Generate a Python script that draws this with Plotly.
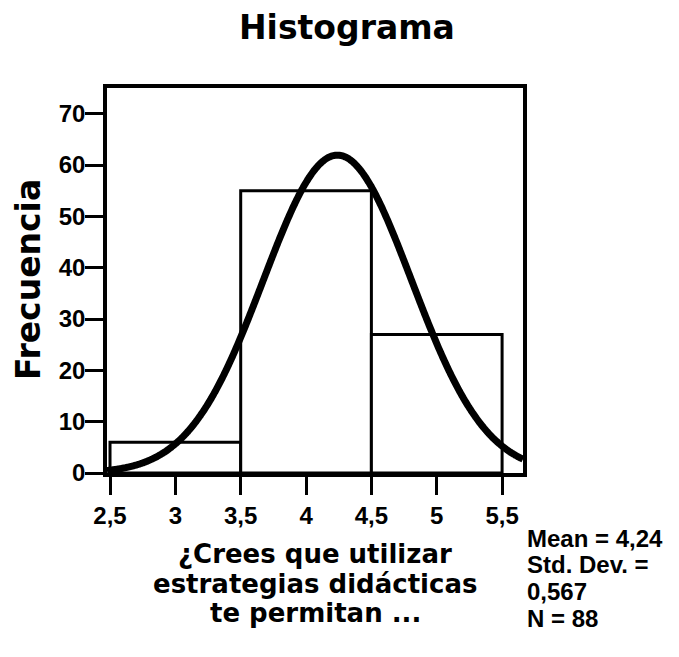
import numpy as np
import plotly.graph_objects as go

# histogram bins (centers, width 1) and counts
bin_centers = [3, 4, 5]
counts = [6, 55, 27]

# summary statistics printed on the chart
mean = 4.24
std_dev = 0.567
n = 88

x_ticks = [2.5, 3, 3.5, 4, 4.5, 5, 5.5]
x_tick_text = ["2,5", "3", "3,5", "4", "4,5", "5", "5,5"]
y_ticks = [0, 10, 20, 30, 40, 50, 60, 70]

x_title_lines = ["¿Crees que utilizar", "estrategias didácticas", "te permitan ..."]
stats_lines = ["Mean = 4,24", "Std. Dev. =", "0,567", "N = 88"]

HEAVY = "DejaVu Sans, Arial Black, sans-serif"
ARIAL = "Liberation Sans, Arial, sans-serif"

# plot area in page pixels (page has an 8px body offset)
PL, PR, PT, PB = 107, 523, 88, 473
W, H, OFF = 679, 657, 8


def px(x):
    return (x - PL) / (PR - PL)


def py(y):
    return (PB - y) / (PB - PT)


# fitted normal curve, scaled to counts per unit-width bin
xs = np.linspace(2.477, 5.66, 400)
ys = n / (std_dev * np.sqrt(2 * np.pi)) * np.exp(-0.5 * ((xs - mean) / std_dev) ** 2)

fig = go.Figure()
fig.add_trace(go.Bar(
    x=bin_centers, y=counts, width=1,
    marker=dict(color="white", line=dict(color="black", width=3)),
))
fig.add_trace(go.Scatter(
    x=xs, y=ys, mode="lines",
    line=dict(color="black", width=7, shape="spline", simplify=False),
))

axis_common = dict(
    showline=True, linecolor="black", linewidth=3.5, mirror=True,
    ticks="outside", ticklen=18, tickwidth=3, tickcolor="black",
    showgrid=False, zeroline=False,
    tickfont=dict(family=ARIAL, size=24, color="black", weight="bold"),
)

fig.update_layout(
    width=W, height=H,
    margin=dict(l=PL - OFF, r=W + OFF - PR, t=PT - OFF, b=H + OFF - PB),
    plot_bgcolor="white", paper_bgcolor="white",
    showlegend=False,
    separators=",.",
    xaxis=dict(range=[2.477, 5.66], tickvals=x_ticks, ticktext=x_tick_text, **axis_common),
    yaxis=dict(range=[0, 75], tickvals=y_ticks, ticklabelstandoff=-5, **axis_common),
)

fig.add_annotation(
    text="<b>Histograma</b>", xref="paper", yref="paper",
    x=px(347), y=py(28), xanchor="center", yanchor="middle", showarrow=False,
    font=dict(family=HEAVY, size=33, color="black"),
)
fig.add_annotation(
    text="<b>Frecuencia</b>", textangle=-90, xref="paper", yref="paper",
    x=px(28), y=py(280), xanchor="center", yanchor="middle", showarrow=False,
    font=dict(family=HEAVY, size=33, color="black"),
)
for i, line in enumerate(x_title_lines):
    fig.add_annotation(
        text="<b>" + line + "</b>", xref="paper", yref="paper",
        x=px(315), y=py(554 + 29.5 * i), xanchor="center", yanchor="middle",
        showarrow=False, font=dict(family=HEAVY, size=26, color="black"),
    )
for i, line in enumerate(stats_lines):
    fig.add_annotation(
        text="<b>" + line + "</b>", xref="paper", yref="paper",
        x=px(525), y=py(538 + 26.8 * i), xanchor="left", yanchor="middle",
        showarrow=False, font=dict(family=ARIAL, size=24, color="black"),
    )

fig.write_html("out.html")
